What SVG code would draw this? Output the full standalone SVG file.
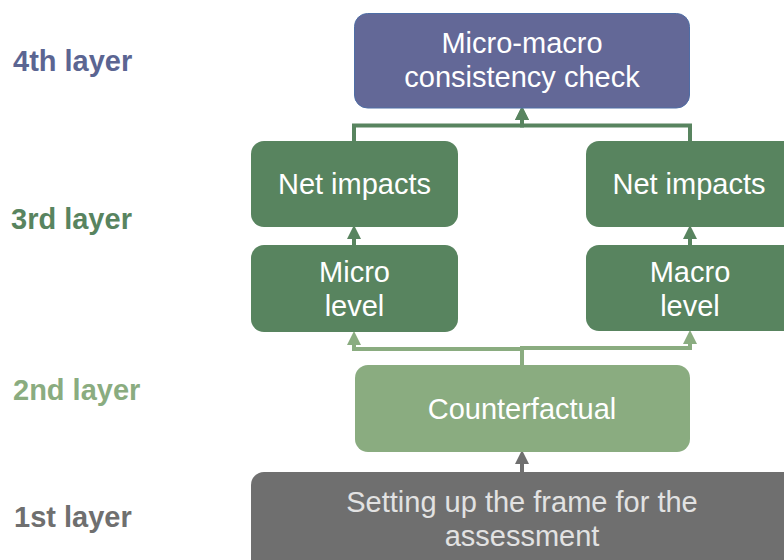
<svg xmlns="http://www.w3.org/2000/svg" width="784" height="560" viewBox="0 0 784 560">
<style>
.lbl{font-family:"Liberation Sans",Arial,sans-serif;font-size:29px;font-weight:bold}
.t{font-family:"Liberation Sans",Arial,sans-serif;font-size:29px;fill:#ffffff;text-anchor:middle}
.dk{fill:#58845f}
.con{fill:none;stroke-width:4}
</style>
<defs>
<marker id="ad" markerUnits="userSpaceOnUse" markerWidth="14" markerHeight="14" refX="0" refY="6" orient="auto" viewBox="0 0 12 12"><path d="M0,0 L12,6 L0,12 z" fill="#58845f"/></marker>
<marker id="al" markerUnits="userSpaceOnUse" markerWidth="14" markerHeight="14" refX="0" refY="6" orient="auto" viewBox="0 0 12 12"><path d="M0,0 L12,6 L0,12 z" fill="#8aac80"/></marker>
<marker id="ag" markerUnits="userSpaceOnUse" markerWidth="14" markerHeight="14" refX="0" refY="6" orient="auto" viewBox="0 0 12 12"><path d="M0,0 L12,6 L0,12 z" fill="#6f6f6f"/></marker>
</defs>
<rect width="784" height="560" fill="#ffffff"/>
<g id="labels">
<text class="lbl" x="13" y="71" fill="#5b6592">4th layer</text>
<text class="lbl" x="11" y="229" fill="#58845f">3rd layer</text>
<text class="lbl" x="13" y="400" fill="#8aac80">2nd layer</text>
<text class="lbl" x="14" y="527" fill="#6f6f6f">1st layer</text>
</g>
<g id="connectors">
<path class="con" d="M354,141 V125.5 H522 V120" stroke="#58845f" marker-end="url(#ad)"/>
<path class="con" d="M690,141 V125.5 H522 V120" stroke="#58845f" marker-end="url(#ad)"/>
<path class="con" d="M354,245 V239" stroke="#58845f" marker-end="url(#ad)"/>
<path class="con" d="M690,245 V239" stroke="#58845f" marker-end="url(#ad)"/>
<path class="con" d="M522,365 V349 H354 V345" stroke="#8aac80" marker-end="url(#al)"/>
<path class="con" d="M522,365 V348 H690 V344" stroke="#8aac80" marker-end="url(#al)"/>
<path class="con" d="M522,472 V464" stroke="#6f6f6f" marker-end="url(#ag)"/>
</g>
<g id="n4">
<rect x="354.5" y="13.5" width="335" height="94.5" rx="13" fill="#636897" stroke="#4e6ea6" stroke-width="1"/>
<text class="t" x="522" y="53">Micro-macro</text>
<text class="t" x="522" y="87">consistency check</text>
</g>
<g id="net_left">
<rect class="dk" x="251" y="141" width="207" height="86" rx="13"/>
<text class="t" x="354.5" y="194">Net impacts</text>
</g>
<g id="net_right">
<rect class="dk" x="586" y="141" width="210" height="86" rx="13"/>
<text class="t" x="689" y="194">Net impacts</text>
</g>
<g id="micro">
<rect class="dk" x="251" y="245" width="207" height="87" rx="13"/>
<text class="t" x="354.5" y="282">Micro</text>
<text class="t" x="354.5" y="316">level</text>
</g>
<g id="macro">
<rect class="dk" x="586" y="245" width="210" height="86" rx="13"/>
<text class="t" x="690" y="282">Macro</text>
<text class="t" x="690" y="316">level</text>
</g>
<g id="counterfactual">
<rect x="355" y="365" width="335" height="87" rx="13" fill="#8aac80"/>
<text class="t" x="522" y="419">Counterfactual</text>
</g>
<g id="frame">
<rect x="251" y="472" width="545" height="100" rx="13" fill="#6f6f6f"/>
<text class="t" x="522" y="512" style="fill:#e2e2e2">Setting up the frame for the</text>
<text class="t" x="522" y="546" style="fill:#e2e2e2">assessment</text>
</g>
</svg>
